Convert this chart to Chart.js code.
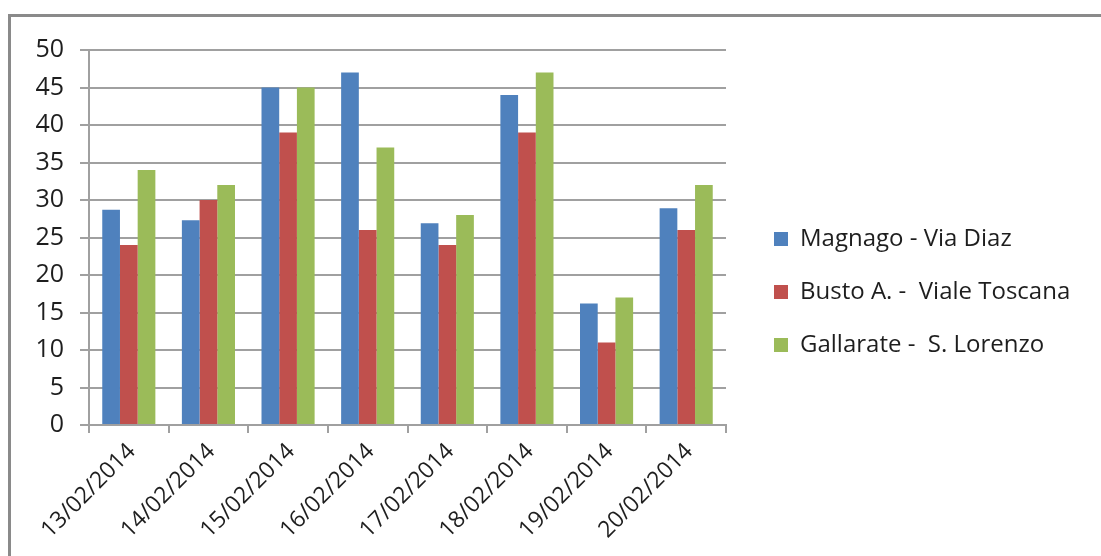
<!DOCTYPE html>
<html>
<head>
<meta charset="utf-8">
<script src="https://cdn.jsdelivr.net/npm/chart.js@4/dist/chart.umd.min.js"></script>
<style>
  html, body { margin: 0; padding: 0; background: #fff; }
  #wrap { position: relative; width: 1101px; height: 556px; overflow: hidden; }
  #frame {
    position: absolute; left: 8px; top: 14px; width: 1200px; height: 700px;
    border-left: 3px solid #8a8a8a; border-top: 3px solid #8a8a8a;
  }
  canvas { position: absolute; left: 0; top: 0; }
</style>
</head>
<body>
<div id="wrap">
  <div id="frame"></div>
  <canvas id="chart" width="1101" height="556"></canvas>
</div>
<script>
// dates on the x axis
const dates = ['13/02/2014', '14/02/2014', '15/02/2014', '16/02/2014',
  '17/02/2014', '18/02/2014', '19/02/2014', '20/02/2014']

// one list per station
const magnago = [28.7, 27.3, 45, 47, 26.9, 44, 16.2, 28.9]
const busto = [24, 30, 39, 26, 24, 39, 11, 26]
const gallarate = [34, 32, 45, 37, 28, 47, 17, 32]

const seriesNames = ['Magnago - Via Diaz', 'Busto A. -  Viale Toscana', 'Gallarate -  S. Lorenzo']
const seriesColors = ['#4f81bd', '#c0504d', '#9bbb59']

const textColor = '#1e1e1e'
const gridColor = '#a0a0a0'
const font = 'Open Sans'

// the legend sits in a wide right column, like the spreadsheet one
const legendPlacement = {
  id: 'legendPlacement',
  beforeLayout(chart) {
    const lg = chart.legend
    if (lg && !lg._wide) {
      const fit = lg.fit.bind(lg)
      lg.fit = function () {
        fit()
        this.width = 375
      }
      lg._wide = true
    }
  },
  afterLayout(chart) {
    const lg = chart.legend
    lg.left += 19
    lg.right += 19
    lg.top -= 11
    lg.bottom -= 11
  },
}

new Chart(document.getElementById('chart'), {
  type: 'bar',
  data: {
    labels: dates,
    datasets: [magnago, busto, gallarate].map((values, i) => ({
      label: seriesNames[i],
      data: values,
      backgroundColor: seriesColors[i],
      borderWidth: 0,
      categoryPercentage: 0.667,
      barPercentage: 1,
    })),
  },
  plugins: [legendPlacement],
  options: {
    responsive: false,
    devicePixelRatio: 1,
    animation: false,
    layout: { padding: { top: 50, right: 0, bottom: 0, left: 0 } },
    plugins: {
      tooltip: { enabled: false },
      legend: {
        position: 'right',
        labels: {
          color: textColor,
          font: { family: font, size: 24 },
          boxWidth: 14,
          boxHeight: 14,
          padding: 29,
        },
      },
    },
    scales: {
      x: {
        grid: {
          drawOnChartArea: false,
          color: gridColor,
          lineWidth: 2,
          tickLength: 8,
        },
        border: { color: gridColor, width: 2 },
        ticks: {
          color: textColor,
          font: { family: font, size: 23 },
          minRotation: 45,
          maxRotation: 45,
          padding: 5,
          labelOffset: 3,
        },
        afterFit: (scale) => { scale.height = 131 },
      },
      y: {
        min: 0,
        max: 50,
        ticks: {
          stepSize: 5,
          color: textColor,
          font: { family: font, size: 25 },
          padding: 16,
        },
        grid: { color: gridColor, lineWidth: 2, tickLength: 9 },
        border: { color: gridColor, width: 2 },
        afterFit: (scale) => { scale.width = 89 },
      },
    },
  },
})
</script>
</body>
</html>
